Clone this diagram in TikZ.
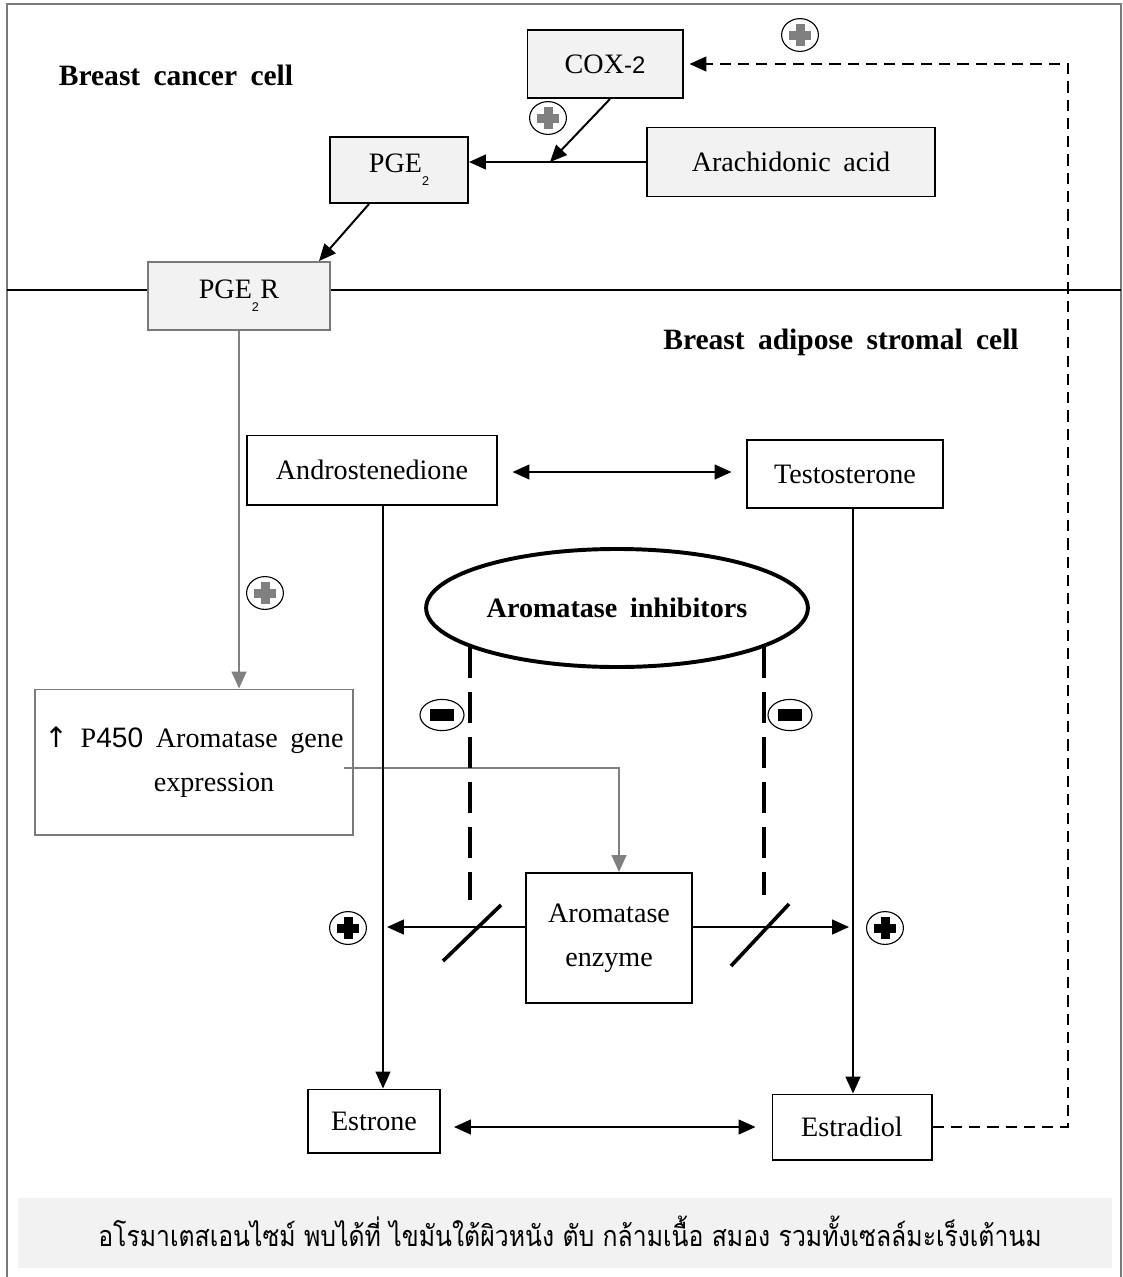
\documentclass[tikz,border=0pt]{standalone}
\usepackage{fontspec}
\setmainfont{Liberation Serif}
\setsansfont{Liberation Sans}
\newfontfamily\thaifont[Script=Thai, FakeStretch=0.86]{Loma}
\newfontfamily\symfont{DejaVu Sans}
\usetikzlibrary{arrows.meta, shapes.geometric, calc}

\definecolor{boxgray}{HTML}{F2F2F2}
\definecolor{framegray}{HTML}{7A7A7A}
\definecolor{plusgray}{HTML}{808080}

\newcommand{\subtwo}{\raisebox{-1.0ex}{\sffamily\fontsize{9}{9}\selectfont 2}}
\newcommand{\widespace}{\spaceskip=0.45em plus 0.1em\relax}

\begin{document}
\begin{tikzpicture}[
    x=0.025cm, y=-0.025cm,
    font=\fontsize{20}{31}\selectfont\widespace,
    line width=1.4pt,
    tip/.style={-{Triangle[length=12pt, width=10.5pt]}},
    twotip/.style={{Triangle[length=12pt, width=10.5pt]}-{Triangle[length=12pt, width=10.5pt]}},
    box/.style={draw, fill=#1, inner sep=0pt, align=center},
    box/.default=white,
    title/.style={font=\fontsize{21}{24}\selectfont\bfseries\widespace},
    feedback/.style={dash pattern=on 8pt off 5pt},
    inhib/.style={line width=2.8pt, dash pattern=on 22pt off 10pt},
    slash/.style={line width=2.6pt},
    badge/.style={draw, ellipse, line width=0.8pt, fill=white,
        minimum width=0.92cm, minimum height=0.82cm, inner sep=0pt},
    plus/.pic={
        \node[badge] (-ring) {};
        \fill[#1] (-4.5,-11) rectangle (4.5,11);
        \fill[#1] (-11,-4.5) rectangle (11,4.5);
    },
    minus/.pic={
        \node[badge, minimum width=1.1cm, minimum height=0.78cm] (-ring) {};
        \fill (-12,-6) rectangle (12,6);
    }
]
    \useasboundingbox (0,0) rectangle (1123,1277);

    % Frame and cell border
    \draw[framegray, line width=1.5pt] (7,1277) -- (7,4) -- (1121,4) -- (1121,1277);
    \coordinate (sepL) at (7,290);
    \coordinate (sepR) at (1121,290);

    % Breast cancer cell
    \node[title] (cancer) at (176,75) {Breast cancer cell};
    \node[box=boxgray, minimum width=3.875cm, minimum height=1.7cm] (cox) at (605,64)
        {COX{\sffamily\fontsize{17}{20}\selectfont -2}};
    \node[box=boxgray, minimum width=7.175cm, minimum height=1.725cm] (arach) at (791,162)
        {Arachidonic acid};
    \node[box=boxgray, minimum width=3.45cm, minimum height=1.65cm] (pge) at (399,170)
        {PGE\subtwo};
    \node[box=boxgray, draw=framegray, minimum width=4.55cm, minimum height=1.7cm] (pger) at (239,296)
        {PGE\subtwo\kern1pt R};

    \draw (sepL) -- (pger.west |- sepL);
    \draw (pger.east |- sepR) -- (sepR);

    \coordinate (join) at (550,162);
    \draw[tip] (arach.west) -- (arach.west -| pge.east);
    \draw[tip] ($(cox.south)+(5,0)$) -- (join);
    \draw[tip] ($(pge.south west)+(40,0)$) -- ($(pger.north east)+(-12,0)$);

    \pic (pcox) at (548,118) {plus=plusgray};
    \pic (pfb) at (800,35) {plus=plusgray};

    % Breast adipose stromal cell
    \node[title] (stromal) at (841,342) {Breast adipose stromal cell};

    \node[box, draw=framegray, minimum width=7.95cm, minimum height=3.625cm] (p450) at (194,762)
        {{\symfont\char"2191} P{\sffamily 450} Aromatase gene\\\hspace*{1.0cm}expression};
    \draw[plusgray, tip] (pger.south) -- (pger.south |- p450.north);
    \pic (pgene) at (265,593) {plus=plusgray};

    \node[box, minimum width=6.225cm, minimum height=1.725cm] (andro) at (372,470)
        {Androstenedione};
    \node[box, minimum width=4.875cm, minimum height=1.7cm] (testo) at (845,474)
        {Testosterone};
    \draw[twotip] ($(andro.east)+(15,2)$) -- ($(testo.west)+(-15,-2)$);

    \node[draw, ellipse, line width=2.8pt, minimum width=9.35cm, minimum height=2.95cm,
          title, font=\fontsize{20}{24}\selectfont\bfseries\widespace] (inh) at (617,608)
        {Aromatase inhibitors};

    \node[box, minimum width=4.125cm, minimum height=3.25cm] (enzyme) at (609,938)
        {Aromatase\\enzyme};
    \draw[plusgray, tip] ($(p450.east)+(-10,6)$) -- ($(enzyme.north |- p450.east)+(10,6)$)
        -- ($(enzyme.north)+(10,0)$);

    \node[box, minimum width=3.3cm, minimum height=1.575cm] (estrone) at (374,1121)
        {Estrone};
    \node[box, minimum width=3.975cm, minimum height=1.625cm] (estradiol) at (852,1127)
        {Estradiol};
    \draw[twotip] ($(estrone.east)+(13,6)$) -- ($(estradiol.west)+(-16,0)$);

    % Conversion rails
    \coordinate (railL) at (383,0);
    \coordinate (railR) at (853,0);
    \coordinate (rowE) at (0,927);
    \draw[tip] (andro.south -| railL) -- (estrone.north -| railL);
    \draw[tip] (testo.south -| railR) -- (estradiol.north -| railR);
    \draw[tip] (enzyme.west |- rowE) -- ($(railL |- rowE)+(4,0)$);
    \draw[tip] (enzyme.east |- rowE) -- ($(railR |- rowE)+(-4,0)$);
    \pic (pestrone) at (348,928) {plus=black};
    \pic (pestradiol) at (885,928) {plus=black};

    % Inhibition
    \coordinate (cutL) at (472,933);
    \coordinate (cutR) at (760,935);
    \draw[inhib] (inh.195) -- ($(inh.195 |- cutL)+(0,-33)$);
    \draw[inhib] (inh.345) -- ($(inh.345 |- cutR)+(0,-40)$);
    \draw[slash] ($(cutL)+(-29,28)$) -- ($(cutL)+(29,-28)$);
    \draw[slash] ($(cutR)+(-29,31)$) -- ($(cutR)+(29,-31)$);
    \pic (mL) at (442,715) {minus};
    \pic (mR) at (790,715) {minus};

    % Estradiol feedback to COX-2
    \coordinate (fbR) at (1068,0);
    \draw[feedback, tip] (estradiol.east) -- (estradiol.east -| fbR) -- (cox.east -| fbR)
        -- ($(cox.east)+(6,0)$);

    % Note
    \fill[boxgray] (18,1198) rectangle (1112,1268);
    \node[font=\thaifont\fontsize{20.5}{24}\selectfont] (note) at (570,1231)
        {อโรมาเตสเอนไซม์ พบได้ที่ ไขมันใต้ผิวหนัง ตับ กล้ามเนื้อ สมอง รวมทั้งเซลล์มะเร็งเต้านม};
\end{tikzpicture}
\end{document}
